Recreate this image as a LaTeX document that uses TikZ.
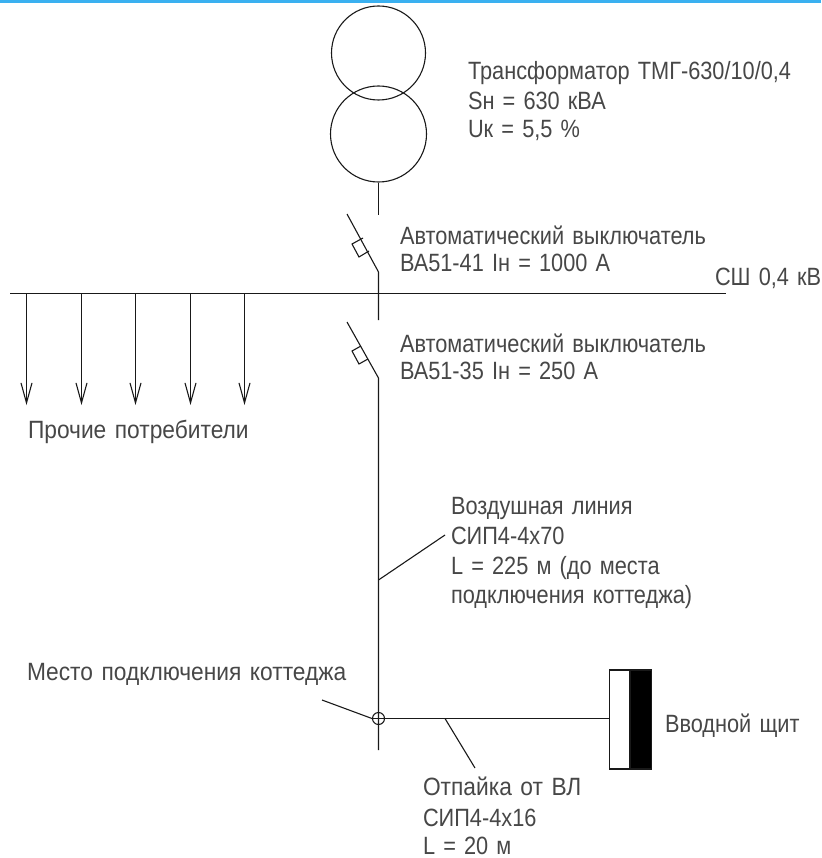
\documentclass[tikz,border=0pt]{standalone}
\usepackage{fontspec}
\setmainfont[FakeStretch=0.87,WordSpace=1.35]{Liberation Sans}
\usetikzlibrary{arrows.meta,positioning,calc}
\definecolor{topband}{HTML}{3AB0F0}
\tikzset{
  wire/.style={line width=1.1pt,black!90},
  lbl/.style={anchor=base west,inner sep=0pt,outer sep=0pt,black!72,font=\fontsize{25}{29}\selectfont},
  lblw/.style={lbl,font=\fontsize{25}{29}\selectfont\addfontfeature{FakeStretch=0.91}}
}
\begin{document}
\begin{tikzpicture}[x=1pt,y=-1pt]
  \useasboundingbox (0,0) rectangle (821,858);
  \fill[topband] (0,0) rectangle (821,3);
  % Transformer
  \node[wire,draw,circle,minimum size=94pt,inner sep=0pt] (trup) at (378.5,53) {};
  \node[wire,draw,circle,minimum size=96pt,inner sep=0pt] (trlow) at (378.5,134) {};
  \coordinate (trend) at (378.5,215);
  \draw[wire] (trlow.south) -- (trend);
  \node[lbl] (trtxt) at (468,80) {Трансформатор ТМГ-630/10/0,4};
  \node[lbl] (trsn) at (468,110) {Sн = 630 кВА};
  \node[lbl] (truk) at (468,138) {Uк = 5,5 \%};
  % Busbar
  \coordinate (busl) at (10,293.5);
  \coordinate (busr) at (726,293.5);
  \draw[wire] (busl) -- (busr);
  \node[lbl] (bustxt) at (715,285) {СШ 0,4 кВ};
  % Breaker 1
  \coordinate (qa) at (347,214);
  \coordinate (qb) at (378.5,272);
  \coordinate (qc) at (378.5,320);
  \draw[wire] (qa) -- (qb) -- (qc);
  \draw[wire] (363,238) -- (352,244) -- (359,257) -- (369,251);
  \node[lbl] (qtxt) at (400,245) {Автоматический выключатель};
  \node[lbl] (qtxtb) at (400,272) {ВА51-41 Iн = 1000 А};
  % Breaker 2
  \coordinate (ra) at (347,322);
  \coordinate (rb) at (378.5,378);
  \coordinate (rc) at (378.5,750);
  \draw[wire] (ra) -- (rb) -- (rc);
  \draw[wire] (361,346) -- (352,351) -- (359,364) -- (368,359);
  \node[lbl] (rtxt) at (400,352) {Автоматический выключатель};
  \node[lbl] (rtxtb) at (400,379) {ВА51-35 Iн = 250 А};
  % Other loads
  \foreach \x/\n in {26.5/a,81.5/b,135.5/c,190.5/d,244.5/e} {
    \coordinate (ld\n) at (\x,293);
    \coordinate (le\n) at (\x,405);
    \draw[wire,-{Straight Barb[length=20pt,width=11pt]}] (ld\n) -- (le\n);
  }
  \node[lblw] (ldtxt) at (28,438) {Прочие потребители};
  % Overhead line
  \coordinate (vla) at (378.5,580);
  \coordinate (vlb) at (445,535);
  \draw[wire] (vla) -- (vlb);
  \node[lbl] (vl1) at (451,514) {Воздушная линия};
  \node[lbl] (vl2) at (451,544) {СИП4-4х70};
  \node[lbl] (vl3) at (451,574) {L = 225 м (до места};
  \node[lbl] (vl4) at (451,603) {подключения коттеджа)};
  % Tap point
  \node[wire,draw,circle,minimum size=12pt,inner sep=0pt] (tap) at (378.5,718.5) {};
  \draw[wire] (tap.north) -- (tap.south) (tap.west) -- (tap.east);
  \coordinate (tpa) at (322,700);
  \draw[wire] (tpa) -- (tap.west);
  \node[lblw] (tptxt) at (27,680) {Место подключения коттеджа};
  % Panel
  \node[wire,draw,fill=white,minimum width=20pt,minimum height=99pt,inner sep=0pt] (pnl) at (619.5,719.5) {};
  \node[wire,draw,fill=black,minimum width=21pt,minimum height=99pt,inner sep=0pt,right=0pt of pnl] (pnlb) {};
  \draw[wire] (tap.east) -- (tap.east -| pnl.west);
  \node[lbl] (pnltxt) at (665,732) {Вводной щит};
  % Branch
  \coordinate (bra) at (445,718.5);
  \coordinate (brb) at (475,768);
  \draw[wire] (bra) -- (brb);
  \node[lblw] (br1) at (423,795) {Отпайка от ВЛ};
  \node[lbl] (br2) at (423,826) {СИП4-4х16};
  \node[lbl] (br3) at (423,854) {L = 20 м};
\end{tikzpicture}
\end{document}
